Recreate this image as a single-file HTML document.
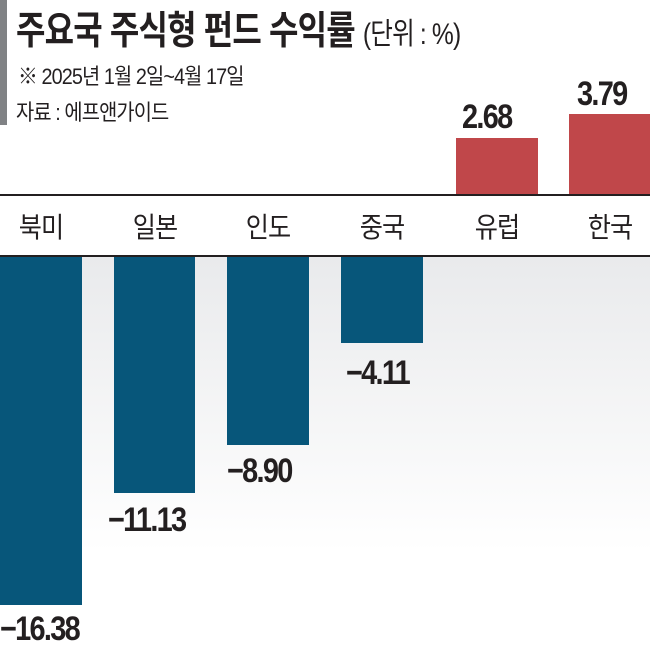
<!DOCTYPE html>
<html><head><meta charset="utf-8"><style>
body{margin:0;width:650px;height:650px;position:relative;overflow:hidden;background:#fff;font-family:"Liberation Sans","Noto Sans CJK KR",sans-serif;color:#231f20}
.a{position:absolute;white-space:nowrap}
.bar{position:absolute;background:#07567a}
.red{position:absolute;background:#c0474a}
.v{position:absolute;font-weight:bold;font-size:34px;letter-spacing:-2px;transform:scaleX(0.85);transform-origin:left top}
.c{position:absolute;font-size:28px;top:206px;letter-spacing:-1px;width:90px;text-align:center;transform:scaleX(0.9)}
</style></head><body>
<div class="a" style="left:0;top:0;width:7px;height:125px;background:#808285"></div>
<div class="a" style="left:16px;top:0px;font-size:39px;font-weight:bold;letter-spacing:-1px;transform:scaleX(0.82);transform-origin:left top">주요국 주식형 펀드 수익률 <span style="font-weight:normal;font-size:30px;letter-spacing:-1px">(단위 : %)</span></div>
<div class="a" style="left:18px;top:59px;font-size:22px;letter-spacing:-1px;transform:scaleX(0.9);transform-origin:left top">※ 2025년 1월 2일~4월 17일</div>
<div class="a" style="left:16px;top:95px;font-size:22px;letter-spacing:-1px;transform:scaleX(0.9);transform-origin:left top">자료 : 에프앤가이드</div>
<div class="red" style="left:456px;top:138px;width:82px;height:57px"></div>
<div class="red" style="left:569px;top:114px;width:81px;height:81px"></div>
<div class="v" style="left:462px;top:98px">2.68</div>
<div class="v" style="left:577px;top:75px">3.79</div>
<div class="a" style="left:0;top:194px;width:650px;height:2px;background:#231f20"></div>
<div class="c" style="left:-4px">북미</div>
<div class="c" style="left:110px">일본</div>
<div class="c" style="left:223px">인도</div>
<div class="c" style="left:337px">중국</div>
<div class="c" style="left:452px">유럽</div>
<div class="c" style="left:565px">한국</div>
<div class="a" style="left:0;top:257px;width:650px;height:393px;background:linear-gradient(#e9eaec,#fff 75%)"></div>
<div class="a" style="left:0;top:255px;width:650px;height:2px;background:#231f20"></div>
<div class="bar" style="left:0;top:257px;width:82px;height:348px"></div>
<div class="bar" style="left:114px;top:257px;width:81px;height:236px"></div>
<div class="bar" style="left:227px;top:257px;width:82px;height:188px"></div>
<div class="bar" style="left:341px;top:257px;width:82px;height:86px"></div>
<div class="v" style="left:0;top:610px">−16.38</div>
<div class="v" style="left:108px;top:501px">−11.13</div>
<div class="v" style="left:227px;top:452px">−8.90</div>
<div class="v" style="left:346px;top:354px">−4.11</div>
</body></html>
